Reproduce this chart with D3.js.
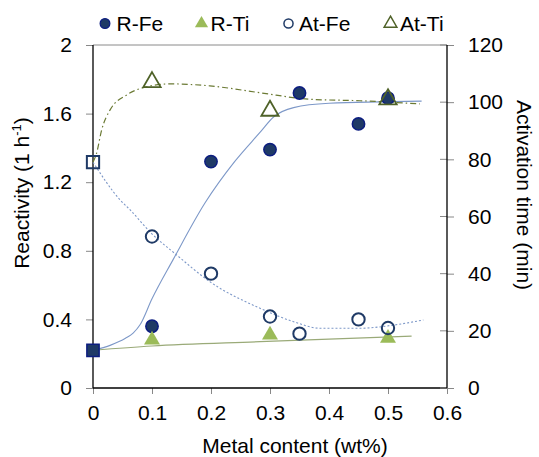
<!DOCTYPE html>
<html>
<head>
<meta charset="utf-8">
<script src="https://cdn.jsdelivr.net/npm/d3@7"></script>
<style>
  body { margin: 0; background: #fff; }
  svg text { font-family: "Liberation Sans", Arial, sans-serif; fill: #000; }
</style>
</head>
<body>
<svg id="chart"></svg>
<script>
'use strict'

// measured points (x = metal content wt%)
var rFe = [[0, 0.22], [0.1, 0.36], [0.2, 1.32], [0.3, 1.39], [0.35, 1.72], [0.45, 1.54], [0.5, 1.69]];
var rTi = [[0.1, 0.28], [0.3, 0.31], [0.5, 0.29]];
var atFe = [[0, 79], [0.1, 53], [0.2, 40], [0.3, 25], [0.35, 19], [0.45, 24], [0.5, 21]];
var atTi = [[0.1, 107], [0.3, 97], [0.5, 101]];

// trend lines
var rFeFit = [[0, 0.22], [0.03, 0.25], [0.055, 0.29], [0.068, 0.32], [0.08, 0.37], [0.1, 0.52], [0.136, 0.75],
	[0.19, 1.08], [0.24, 1.32], [0.283, 1.49], [0.306, 1.58], [0.34, 1.635], [0.4, 1.66], [0.557, 1.673]];
var rTiFit = [[0, 0.22], [0.1, 0.245], [0.283, 0.27], [0.54, 0.303]];
var atFeFit = [[0, 79], [0.046, 65.8], [0.063, 62.3], [0.099, 54.1], [0.142, 46.5], [0.198, 37.2], [0.283, 27.9],
	[0.34, 23.2], [0.385, 20.9], [0.4525, 20.9], [0.509, 22], [0.56, 23.8]];
var atTiFit = [[0, 79], [0.006, 82.1], [0.0147, 90.3], [0.029, 97.3], [0.057, 102.5], [0.091, 105.4], [0.13, 106.4],
	[0.198, 105.7], [0.283, 103.3], [0.368, 101], [0.4525, 100.5], [0.554, 99.4]];

var xTicks = [0, 0.1, 0.2, 0.3, 0.4, 0.5, 0.6];
var yLeftTicks = [0, 0.4, 0.8, 1.2, 1.6, 2];
var yRightTicks = [0, 20, 40, 60, 80, 100, 120];
var legendNames = ["R-Fe", "R-Ti", "At-Fe", "At-Ti"];

var WIDTH = 539, HEIGHT = 457;
var margin = { top: 45, right: 92, bottom: 69, left: 93 };

var darkBlue = "#1f3a66", navy = "#0c1d80", green = "#9bbb59", olive = "#4f6228",
	fitBlue = "#7d98c8", fitGreen = "#9aaa78", fitOlive = "#6b7a34";

var svg = d3.select("#chart").attr("width", WIDTH).attr("height", HEIGHT);

var x = d3.scaleLinear().domain([0, 0.6]).range([margin.left, WIDTH - margin.right]);
var yL = d3.scaleLinear().domain([0, 2]).range([HEIGHT - margin.bottom, margin.top]);
var yR = d3.scaleLinear().domain([0, 120]).range([HEIGHT - margin.bottom, margin.top]);

var fontSize = 21;

// top border
svg.append("line")
	.attr("x1", x(0)).attr("x2", x(0.6))
	.attr("y1", yL(2)).attr("y2", yL(2))
	.style("stroke", "#8a8a8a").style("stroke-width", 1);

// bottom axis
var xAxis = svg.append("g").attr("transform", "translate(0," + yL(0) + ")");
xAxis.call(d3.axisBottom(x).tickValues(d3.range(0, 0.601, 0.05)).tickSize(5).tickFormat(""));
xAxis.call(d3.axisBottom(x).tickValues(xTicks).tickSize(6).tickPadding(11).tickFormat(d3.format("")));
xAxis.selectAll(".tick line").style("stroke", "#888");
xAxis.selectAll(".domain").remove();
xAxis.selectAll("text").style("font-size", fontSize + "px").style("font-family", "Liberation Sans, Arial");
xAxis.append("line").attr("x1", x(0)).attr("x2", x(0.6)).style("stroke", "#000").style("stroke-width", 1.3);

// left axis
var yAxisL = svg.append("g").attr("transform", "translate(" + x(0) + ",0)");
yAxisL.call(d3.axisLeft(yL).tickValues(yLeftTicks).tickSize(7).tickPadding(14).tickFormat(d3.format("")));
yAxisL.selectAll(".tick line").style("stroke", "#888");
yAxisL.selectAll(".domain").remove();
yAxisL.selectAll("text").style("font-size", fontSize + "px").style("font-family", "Liberation Sans, Arial");
yAxisL.append("line").attr("y1", yL(0)).attr("y2", yL(2)).style("stroke", "#000").style("stroke-width", 1.3);

// right axis
var yAxisR = svg.append("g").attr("transform", "translate(" + x(0.6) + ",0)");
yAxisR.call(d3.axisRight(yR).tickValues(d3.range(10, 120, 20)).tickSize(6).tickFormat(""));
yAxisR.call(d3.axisRight(yR).tickValues(yRightTicks).tickSize(7).tickPadding(14).tickFormat(d3.format("")));
yAxisR.selectAll(".tick line").style("stroke", "#888");
yAxisR.selectAll(".domain").remove();
yAxisR.selectAll("text").style("font-size", fontSize + "px").style("font-family", "Liberation Sans, Arial");
yRightTicks.forEach(function(t) {
	yAxisR.append("line").attr("x1", -7).attr("x2", 0).attr("y1", yR(t)).attr("y2", yR(t)).style("stroke", "#888");
});
yAxisR.append("line").attr("y1", yR(0)).attr("y2", yR(120)).style("stroke", "#000").style("stroke-width", 1.3);

// axis titles
svg.append("text")
	.attr("x", 295).attr("y", 453)
	.attr("text-anchor", "middle").style("font-size", fontSize + "px")
	.text("Metal content (wt%)");

var leftTitle = svg.append("text")
	.attr("transform", "translate(29," + 193 + ") rotate(-90)")
	.attr("text-anchor", "middle").style("font-size", fontSize + "px");
leftTitle.append("tspan").text("Reactivity (1 h");
leftTitle.append("tspan").attr("dy", -8).style("font-size", "13px").text("-1");
leftTitle.append("tspan").attr("dy", 8).text(")");

svg.append("text")
	.attr("transform", "translate(517," + 195 + ") rotate(90)")
	.attr("text-anchor", "middle").style("font-size", fontSize + "px")
	.text("Activation time (min)");

// trend lines
var lineL = d3.line().x(function(d) { return x(d[0]); }).y(function(d) { return yL(d[1]); }).curve(d3.curveMonotoneX);
var lineR = d3.line().x(function(d) { return x(d[0]); }).y(function(d) { return yR(d[1]); }).curve(d3.curveMonotoneX);

svg.append("path").attr("d", lineL(rTiFit))
	.style("fill", "none").style("stroke", fitGreen).style("stroke-width", 1.2);
svg.append("path").attr("d", lineL(rFeFit))
	.style("fill", "none").style("stroke", fitBlue).style("stroke-width", 1.1);
svg.append("path").attr("d", lineR(atFeFit))
	.style("fill", "none").style("stroke", fitBlue).style("stroke-width", 1.1).style("stroke-dasharray", "2,2");
svg.append("path").attr("d", lineR(atTiFit))
	.style("fill", "none").style("stroke", fitOlive).style("stroke-width", 1.2).style("stroke-dasharray", "6,3,1.5,3");

// markers
var circleSym = d3.symbol().type(d3.symbolCircle).size(120);
var squareSym = d3.symbol().type(d3.symbolSquare).size(150);
var triSym = d3.symbol().type(d3.symbolTriangle).size(110);

function drawMarkers(data, yScale, sym, fill, stroke, width) {
	svg.append("g").selectAll("path")
		.data(data)
		.enter().append("path")
		.attr("transform", function(d) { return "translate(" + x(d[0]) + "," + yScale(d[1]) + ")"; })
		.attr("d", function(d) { return d[0] === 0 ? squareSym() : sym(); })
		.style("fill", fill).style("stroke", stroke).style("stroke-width", width);
}

drawMarkers(rFe, yL, circleSym, darkBlue, navy, 1.5);
drawMarkers(rTi, yL, triSym, green, "none", 0);
drawMarkers(atFe, yR, circleSym, "none", darkBlue, 2);
drawMarkers(atTi, yR, d3.symbol().type(d3.symbolTriangle).size(130), "none", olive, 1.8);

// legend
var legendX = [105, 201.5, 288.5, 390.5];
var legendTextX = [116.5, 210.5, 299, 400];
var legendSym = [
	{ sym: d3.symbol().type(d3.symbolCircle).size(75), fill: darkBlue, stroke: navy, w: 1.2 },
	{ sym: d3.symbol().type(d3.symbolTriangle).size(75), fill: green, stroke: "none", w: 0 },
	{ sym: d3.symbol().type(d3.symbolCircle).size(65), fill: "none", stroke: darkBlue, w: 1.5 },
	{ sym: d3.symbol().type(d3.symbolTriangle).size(70), fill: "none", stroke: olive, w: 1.5 }
];
var legend = svg.append("g");
legendNames.forEach(function(name, i) {
	legend.append("path")
		.attr("transform", "translate(" + legendX[i] + ",23.5)")
		.attr("d", legendSym[i].sym())
		.style("fill", legendSym[i].fill).style("stroke", legendSym[i].stroke).style("stroke-width", legendSym[i].w);
	legend.append("text")
		.attr("x", legendTextX[i]).attr("y", 31)
		.style("font-size", fontSize + "px")
		.text(name);
});
</script>
</body>
</html>
